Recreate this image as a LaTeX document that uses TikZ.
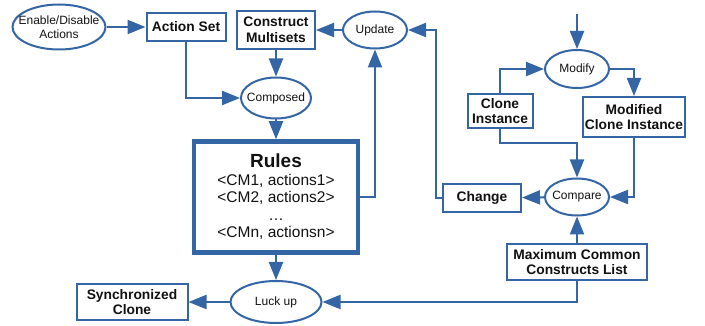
\documentclass[tikz,border=0pt]{standalone}
\usepackage{fontspec}
\setmainfont{Liberation Sans}
\usepackage{xcolor}
\usepackage{tikz}
\usetikzlibrary{positioning,arrows.meta,shapes.geometric}
\definecolor{flow}{HTML}{3465A4}
\definecolor{ink}{HTML}{111111}
\newcommand{\ovalfont}{\fontsize{12}{13.5}\selectfont}
\newcommand{\boxfont}{\fontsize{13.8}{15.5}\selectfont\bfseries}

\begin{document}
\begin{tikzpicture}[x=1pt,y=-1pt,
  oval/.style={ellipse,draw=flow,line width=2pt,inner sep=-14pt,align=center,text=ink,font=\ovalfont},
  plate/.style={rectangle,draw=flow,line width=2pt,inner sep=0pt,align=center,text=ink,font=\boxfont},
  link/.style={draw=flow,line width=2.2pt,-{Triangle[length=18pt,width=14pt]}}]
  \useasboundingbox (0,0) rectangle (705,326);
  %% left part: actions, multisets, rules
  \node[oval,minimum width=93pt,minimum height=45pt] (enable) at (59,27) {Enable/Disable\\Actions};
  \node[plate,minimum width=79pt,minimum height=28pt] (aset) at (186,27) {Action Set};
  \node[plate,minimum width=78pt,minimum height=38pt] (cmulti) at (276,30) {Construct\\Multisets};
  \node[oval,minimum width=64pt,minimum height=37pt] (update) at (375,30) {Update};
  \node[oval,minimum width=70pt,minimum height=41pt] (composed) at (276,98) {Composed};
  \node[rectangle,draw=flow,line width=4.5pt,minimum width=164pt,minimum height=111pt,
        inner sep=0pt,align=center,text=ink,font=\fontsize{15.5}{17.5}\selectfont] (rules) at (276,197)
       {{\fontsize{19}{21}\selectfont\bfseries Rules}\\<CM1, actions1>\\<CM2, actions2>\\…\\<CMn, actionsn>};
  \node[oval,minimum width=91pt,minimum height=42pt] (luck) at (276,302) {Luck up};
  \node[plate,minimum width=111pt,minimum height=36pt] (sync) at (132,302) {Synchronized\\Clone};
  %% right part: clone comparison
  \coordinate (feed) at (577,14);
  \node[oval,minimum width=64pt,minimum height=38pt] (modify) at (577,69) {Modify};
  \node[plate,minimum width=65pt,minimum height=34pt] (clone) at (500,111) {Clone\\Instance};
  \node[plate,minimum width=102pt,minimum height=40pt] (mci) at (634,117) {Modified\\Clone Instance};
  \node[oval,minimum width=64pt,minimum height=37pt] (compare) at (577,197) {Compare};
  \node[plate,minimum width=78pt,minimum height=28pt] (change) at (482,198) {Change};
  \node[plate,minimum width=140pt,minimum height=36pt] (mccl) at (577,262) {Maximum Common\\Constructs List};
  %% connectors
  \draw[link] (enable) -- (aset);
  \draw[link] (aset.south) |- (composed.west);
  \draw[link] (update) -- (cmulti);
  \draw[link] (cmulti) -- (composed);
  \draw[link] (composed) -- (rules);
  \draw[link] (rules.east) -| (update.south);
  \draw[link] (change.west) -- ++(-6,0) |- (update.east);
  \draw[link] (rules) -- (luck);
  \draw[link] (luck) -- (sync);
  \draw[link] (feed) -- (modify);
  \draw[link] (clone.north) |- (modify.west);
  \draw[link] (modify.east) -| (mci.north);
  \draw[link] (clone.south) -- ++(0,14) -| (compare.north);
  \draw[link] (mci.south) |- (compare.east);
  \draw[link] (compare) -- (change);
  \draw[link] (mccl) -- (compare);
  \draw[link] (mccl.south) |- (luck.east);
\end{tikzpicture}
\end{document}
